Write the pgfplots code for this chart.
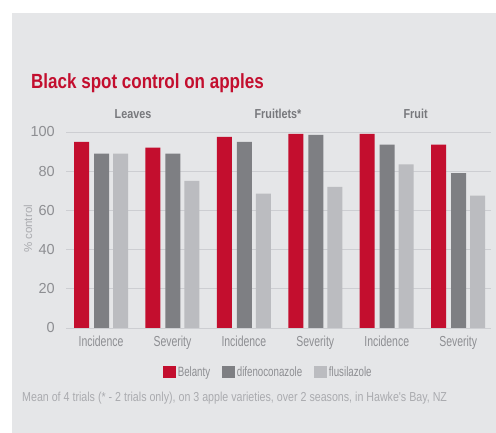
\documentclass[border=0pt]{standalone}
\usepackage{pgfplots}
\usepackage{pgfplotstable}
\pgfplotsset{compat=1.18}
\usepackage{fontspec}
\setmainfont{Liberation Sans}
\newfontfamily\cnd{Liberation Sans}[FakeStretch=0.72]
\newfontfamily\cndn{Liberation Sans}[FakeStretch=0.82]
\newfontfamily\cndb{Liberation Sans}[FakeStretch=0.83]

\definecolor{bel}{HTML}{C30E2E}
\definecolor{dif}{HTML}{7E7F83}
\definecolor{flu}{HTML}{BBBCC0}
\definecolor{panel}{HTML}{E5E6E8}
\definecolor{gridc}{HTML}{CDCED2}
\definecolor{tickc}{HTML}{8D8E92}
\definecolor{grpc}{HTML}{77787C}
\definecolor{notec}{HTML}{AAABAF}

% % control, per trial type and measure
\pgfplotstableread{
x bel dif flu
0 95   89   89
1 92   89   75
2 97.5 95   68.5
3 99   98.5 72
4 99   93.5 83.5
5 93.5 79   67.5
}\datatable

\begin{document}
\begin{tikzpicture}
\useasboundingbox (0,0) rectangle (496bp,433bp);
\fill[white] (0,0) rectangle (496bp,433bp);
\fill[panel] (12bp,0) rectangle (496bp,420bp);

\begin{axis}[
    at={(66bp,105bp)}, anchor=south west,
    scale only axis, width=425bp, height=196bp,
    xmin=-0.49, xmax=5.46, ymin=0, ymax=100,
    ybar, bar width=15bp,
    axis line style={draw=none},
    major tick length=0pt,
    ytick={0,20,...,100},
    ymajorgrids, grid style={gridc, line width=0.9pt},
    xtick={0,...,5},
    xticklabels={Incidence,Severity,Incidence,Severity,Incidence,Severity},
    xticklabel style={font=\cnd\fontsize{14.5bp}{16bp}\selectfont, text=tickc,
      anchor=north, inner sep=0pt, yshift=-8bp},
    yticklabel style={font=\fontsize{14.5bp}{16bp}\selectfont, text=tickc,
      anchor=east, inner sep=0pt, xshift=-11bp},
    /pgf/number format/assume math mode=true,
    legend style={at={(0.228,-0.2245)}, anchor=west, draw=none, fill=none,
      inner sep=0pt, legend columns=-1,
      font=\cnd\fontsize{13.5bp}{16bp}\selectfont, text=tickc,
      /tikz/every even column/.append style={column sep=10bp}},
    legend image code/.code={\draw[#1,draw=none] (0bp,-6.35bp) rectangle (12.7bp,6.35bp);},
  ]
  \addplot[fill=bel, draw=none, bar shift=-19.5bp] table[x=x,y=bel]{\datatable};
  \addlegendentry{Belanty}
  \addplot[fill=dif, draw=none, bar shift=0.5bp] table[x=x,y=dif]{\datatable};
  \addlegendentry{difenoconazole}
  \addplot[fill=flu, draw=none, bar shift=19.5bp] table[x=x,y=flu]{\datatable};
  \addlegendentry{flusilazole}
\end{axis}

\node[anchor=base west, inner sep=0pt, text=bel,
  font=\cndb\bfseries\fontsize{20.5bp}{24bp}\selectfont] at (31bp,344bp)
  {Black spot control on apples};
\begin{scope}[every node/.style={anchor=base, inner sep=0pt, text=grpc,
    font=\cndb\bfseries\fontsize{13bp}{15bp}\selectfont}]
  \node at (133bp,314bp) {Leaves};
  \node at (278bp,314bp) {Fruitlets*};
  \node at (415.6bp,314bp) {Fruit};
\end{scope}
\node[rotate=90, inner sep=0pt, text=notec,
  font=\fontsize{11.5bp}{13bp}\selectfont] at (28bp,204bp) {\% control};
\node[anchor=base west, inner sep=0pt, text=notec,
  font=\cndn\fontsize{13bp}{15bp}\selectfont] at (22bp,32bp)
  {Mean of 4 trials (* - 2 trials only), on 3 apple varieties, over 2 seasons, in Hawke's Bay, NZ};
\end{tikzpicture}
\end{document}
